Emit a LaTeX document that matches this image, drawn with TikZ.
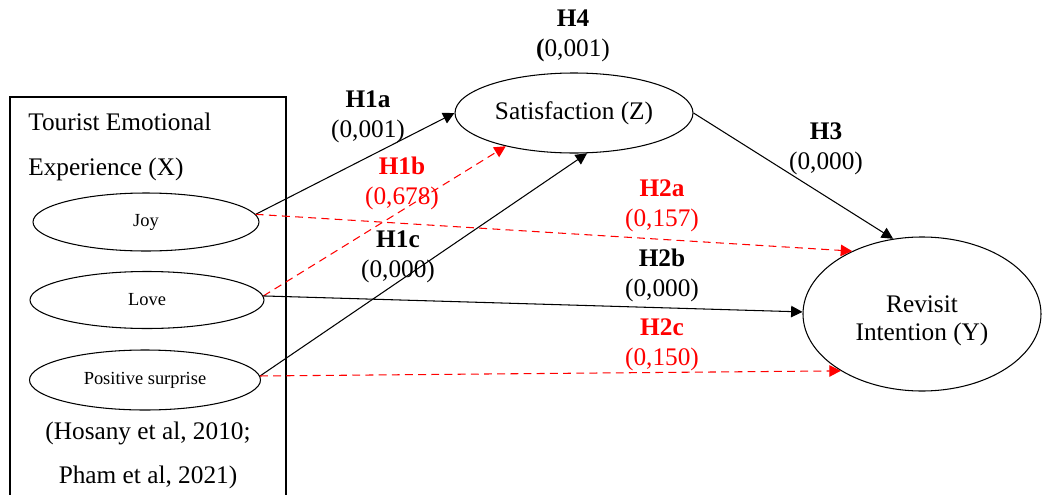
\documentclass[tikz,border=0pt]{standalone}
\usepackage{fontspec}
\setmainfont{Liberation Serif}
\usetikzlibrary{shapes.geometric,arrows.meta}
\begin{document}
\begin{tikzpicture}[x=0.02cm,y=-0.02cm,
  lbl/.style={font=\fontsize{14.4}{17}\selectfont,align=center,inner sep=0pt},
  emo/.style={draw,ellipse,line width=0.6pt,inner sep=0pt,font=\fontsize{10.5}{12}\selectfont},
  bigell/.style={draw,ellipse,line width=0.6pt,inner sep=0pt,font=\fontsize{14.4}{17}\selectfont,align=center},
  solidarr/.style={line width=0.6pt,-{Triangle[length=6.5pt,width=6.5pt]}},
  redarr/.style={line width=0.6pt,red,dash pattern=on 4.5pt off 3pt,-{Triangle[length=6.5pt,width=6.5pt]}},
  hred/.style={red}]
\useasboundingbox (0,0) rectangle (1042,494);
\fill[white] (0,0) rectangle (1042,494);

% construct box, open at the bottom edge of the page
\draw[line width=0.6pt] (10,500) -- (10,97) -- (286,97) -- (286,500);
\node[lbl,anchor=west,align=left,font=\fontsize{14.4}{25.5}\selectfont] (xtitle) at (28,147)
  {Tourist Emotional\\Experience (X)};
\node[lbl,font=\fontsize{14.4}{25}\selectfont] (cite) at (148,455)
  {(Hosany et al, 2010;\\Pham et al, 2021)};

% emotion dimensions
\node[emo,minimum width=226*0.02cm,minimum height=58*0.02cm] (joy) at (146,222) {Joy};
\node[emo,minimum width=234*0.02cm,minimum height=57*0.02cm] (love) at (147,300) {Love};
\node[emo,minimum width=231*0.02cm,minimum height=60*0.02cm] (ps) at (145,380) {Positive surprise};

% mediator and outcome
\node[bigell,minimum width=238*0.02cm,minimum height=80*0.02cm] (sat) at (574,113) {Satisfaction (Z)};
\node[bigell,minimum width=238*0.02cm,minimum height=154*0.02cm] (rev) at (922,314) {};
\node[lbl,font=\fontsize{14.4}{16}\selectfont] (revtext) at ([yshift=-4pt]rev.center) {Revisit\\Intention (Y)};

% paths
\draw[solidarr] (joy.4) -- (sat.west);
\draw[redarr] (love.2) -- (sat.206);
\draw[solidarr] (ps.2) -- (sat.288);
\draw[redarr] (joy.4) -- (rev.138);
\draw[solidarr] (love.2) -- (rev.179);
\draw[redarr] (ps.2) -- (rev.215);
\draw[solidarr] (sat.east) -- (rev.111);

% path labels
\node[lbl] (h4) at (573,36) {\textbf{H4}\\\textbf{(}0,001)};
\node[lbl] (h1a) at (368,117) {\textbf{H1a}\\(0,001)};
\node[lbl,hred] (h1b) at (402,183) {\textbf{H1b}\\(0,678)};
\node[lbl] (h1c) at (398,257) {\textbf{H1c}\\(0,000)};
\node[lbl] (h3) at (826,149) {\textbf{H3}\\(0,000)};
\node[lbl,hred] (h2a) at (662,206) {\textbf{H2a}\\(0,157)};
\node[lbl] (h2b) at (662,275) {\textbf{H2b}\\(0,000)};
\node[lbl,hred] (h2c) at (662,345) {\textbf{H2c}\\(0,150)};
\end{tikzpicture}
\end{document}
